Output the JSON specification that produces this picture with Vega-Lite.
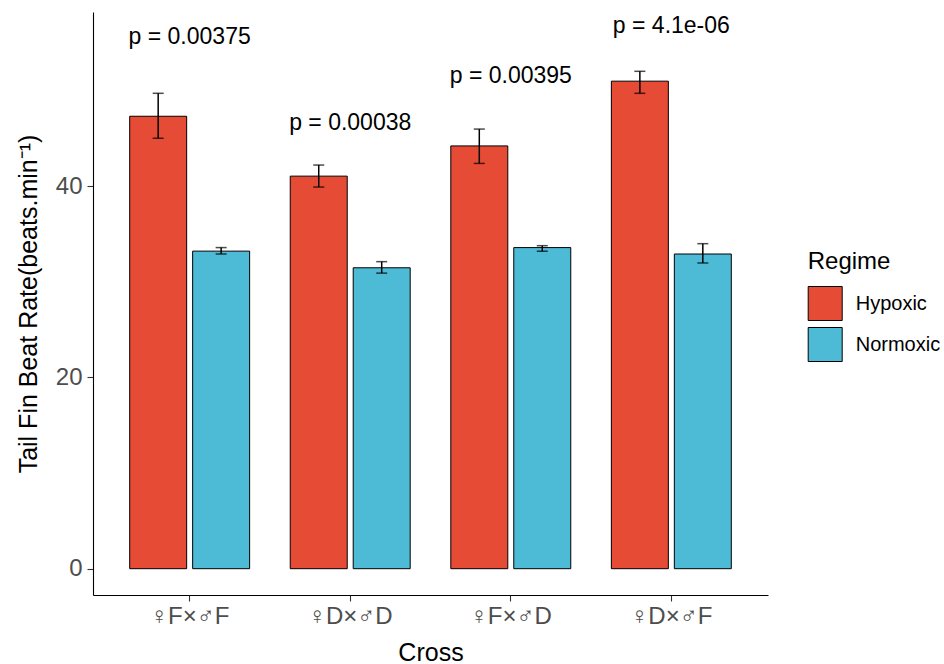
{
  "$schema": "https://vega.github.io/schema/vega-lite/v6.json",
  "width": 675,
  "height": 583,
  "autosize": {"type": "none"},
  "padding": {"left": 93, "top": 12, "right": 176, "bottom": 69},
  "background": "white",
  "config": {
    "view": {"stroke": null},
    "font": "Liberation Sans",
    "axis": {
      "grid": false,
      "domainColor": "#000000",
      "domainWidth": 1.1,
      "tickColor": "#333333",
      "tickWidth": 1.1,
      "tickSize": 6,
      "labelColor": "#4D4D4D",
      "labelFont": "Liberation Sans",
      "labelFontSize": 24,
      "titleFont": "Liberation Sans",
      "titleFontSize": 25,
      "titleFontWeight": "normal",
      "titleColor": "#000000"
    }
  },
  "datasets": {
    "bars": [
      {"Cross": "♀F×♂F", "Regime": "Hypoxic", "mean": 47.3, "lo": 45.0, "hi": 49.7},
      {"Cross": "♀F×♂F", "Regime": "Normoxic", "mean": 33.2, "lo": 32.9, "hi": 33.57},
      {"Cross": "♀D×♂D", "Regime": "Hypoxic", "mean": 41.04, "lo": 39.9, "hi": 42.2},
      {"Cross": "♀D×♂D", "Regime": "Normoxic", "mean": 31.46, "lo": 30.9, "hi": 32.1},
      {"Cross": "♀F×♂D", "Regime": "Hypoxic", "mean": 44.2, "lo": 42.37, "hi": 45.96},
      {"Cross": "♀F×♂D", "Regime": "Normoxic", "mean": 33.57, "lo": 33.19, "hi": 33.77},
      {"Cross": "♀D×♂F", "Regime": "Hypoxic", "mean": 50.97, "lo": 49.7, "hi": 52.0},
      {"Cross": "♀D×♂F", "Regime": "Normoxic", "mean": 32.9, "lo": 31.96, "hi": 33.98}
    ],
    "labels": [
      {"Cross": "♀F×♂F", "label": "p = 0.00375", "ypos": 55.6},
      {"Cross": "♀D×♂D", "label": "p = 0.00038", "ypos": 46.6},
      {"Cross": "♀F×♂D", "label": "p = 0.00395", "ypos": 51.5},
      {"Cross": "♀D×♂F", "label": "p = 4.1e-06", "ypos": 56.7}
    ]
  },
  "layer": [
    {
      "data": {"name": "bars"},
      "mark": {"type": "bar", "stroke": "black", "strokeWidth": 1},
      "encoding": {
        "x": {
          "field": "Cross", "type": "nominal",
          "sort": ["♀F×♂F", "♀D×♂D", "♀F×♂D", "♀D×♂F"],
          "scale": {"paddingInner": 0.253, "paddingOuter": 0.2285},
          "axis": {"title": "Cross", "labelAngle": 0, "labelPadding": 3, "titlePadding": 12}
        },
        "xOffset": {
          "field": "Regime", "type": "nominal",
          "scale": {"paddingInner": 0.095, "paddingOuter": 0}
        },
        "y": {
          "field": "mean", "type": "quantitative",
          "scale": {"domain": [-2.75, 58.2], "nice": false, "zero": false},
          "axis": {"title": "Tail Fin Beat Rate(beats.min⁻¹)", "values": [0, 20, 40], "labelPadding": 5, "titlePadding": 14}
        },
        "y2": {"datum": 0},
        "fill": {
          "field": "Regime", "type": "nominal",
          "scale": {"domain": ["Hypoxic", "Normoxic"], "range": ["#E64B35", "#4DBBD5"]},
          "legend": {
            "title": "Regime",
            "orient": "none",
            "legendX": 714.7,
            "legendY": 238,
            "padding": 0,
            "symbolType": "square",
            "symbolSize": 1156,
            "symbolStrokeColor": "black",
            "symbolStrokeWidth": 1,
            "symbolOpacity": 1,
            "titleFontSize": 24,
            "titleFontWeight": "normal",
            "titleColor": "#000000",
            "titlePadding": 12,
            "labelFontSize": 20,
            "labelColor": "#000000",
            "labelOffset": 13,
            "rowPadding": 2
          }
        }
      }
    },
    {
      "data": {"name": "bars"},
      "mark": {"type": "rule", "color": "black", "strokeWidth": 1.5},
      "encoding": {
        "x": {"field": "Cross", "type": "nominal", "sort": ["♀F×♂F", "♀D×♂D", "♀F×♂D", "♀D×♂F"]},
        "xOffset": {"field": "Regime", "type": "nominal"},
        "y": {"field": "lo", "type": "quantitative"},
        "y2": {"field": "hi"}
      }
    },
    {
      "data": {"name": "bars"},
      "mark": {"type": "tick", "color": "black", "size": 11, "thickness": 1.5},
      "encoding": {
        "x": {"field": "Cross", "type": "nominal", "sort": ["♀F×♂F", "♀D×♂D", "♀F×♂D", "♀D×♂F"]},
        "xOffset": {"field": "Regime", "type": "nominal"},
        "y": {"field": "lo", "type": "quantitative"}
      }
    },
    {
      "data": {"name": "bars"},
      "mark": {"type": "tick", "color": "black", "size": 11, "thickness": 1.5},
      "encoding": {
        "x": {"field": "Cross", "type": "nominal", "sort": ["♀F×♂F", "♀D×♂D", "♀F×♂D", "♀D×♂F"]},
        "xOffset": {"field": "Regime", "type": "nominal"},
        "y": {"field": "hi", "type": "quantitative"}
      }
    },
    {
      "data": {"name": "labels"},
      "mark": {"type": "text", "fontSize": 23, "color": "black", "baseline": "middle", "align": "center"},
      "encoding": {
        "x": {"field": "Cross", "type": "nominal", "sort": ["♀F×♂F", "♀D×♂D", "♀F×♂D", "♀D×♂F"]},
        "y": {"field": "ypos", "type": "quantitative"},
        "text": {"field": "label"}
      }
    }
  ]
}
